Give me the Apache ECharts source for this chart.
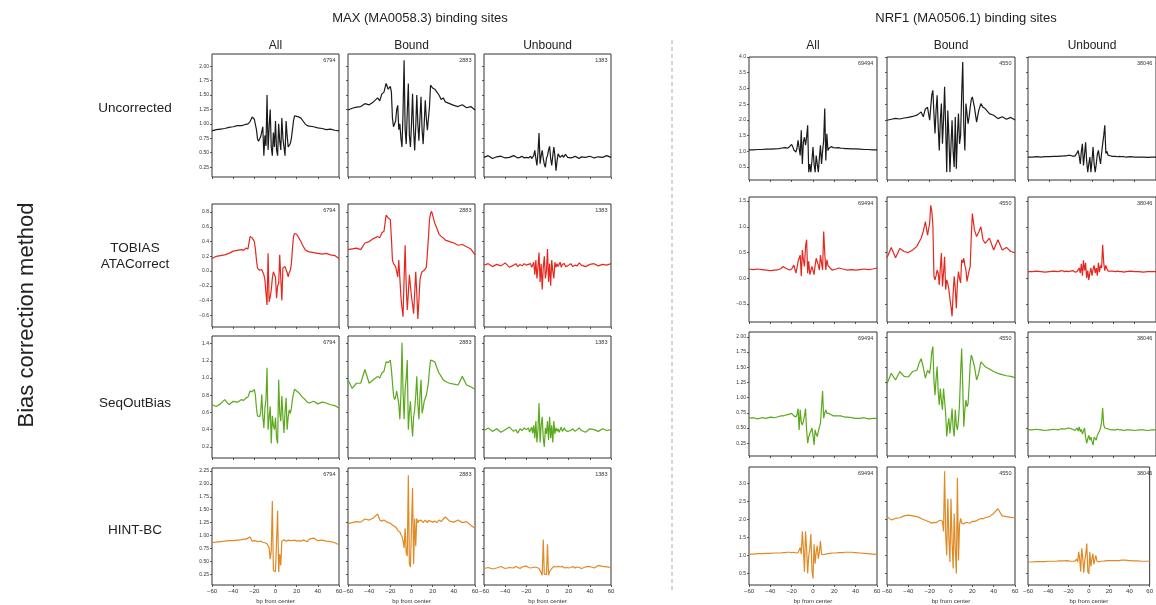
<!DOCTYPE html>
<html><head><meta charset="utf-8">
<script src="https://cdn.jsdelivr.net/npm/echarts@6/dist/echarts.min.js"></script>
<style>html,body{margin:0;padding:0;background:#fff}#c{width:1156px;height:605px}</style>
</head><body><div id="c"></div>
<script>
// ---------------- DATA ----------------
const X = [-60,-56,-52,-48,-44,-40,-36,-32,-30,-28,-26,-24,-22,
  -20,-19,-18,-17,-16,-15,-14,-13,-12,-11,-10,-9,-8,-7,-6,-5,-4,-3,-2,-1,
  0,1,2,3,4,5,6,7,8,9,10,11,12,13,14,15,16,17,18,19,20,
  22,24,26,28,30,32,36,40,44,48,52,56,60];

const motifTitles = ['MAX (MA0058.3) binding sites','NRF1 (MA0506.1) binding sites'];
const columns = ['All','Bound','Unbound'];
const methods = ['Uncorrected','TOBIAS\nATACorrect','SeqOutBias','HINT-BC'];
const yAxisTitle = 'Bias correction method';
const xAxisTitle = 'bp from center';
const maxCounts = ['6794','2883','1383'];
const nrf1Counts = ['69494','4550','38046'];
const xTicks = [-60,-40,-20,0,20,40,60];
const maxYTicks = [
  [0.25,0.50,0.75,1.00,1.25,1.50,1.75,2.00],
  [-0.6,-0.4,-0.2,0.0,0.2,0.4,0.6,0.8],
  [0.2,0.4,0.6,0.8,1.0,1.2,1.4],
  [0.25,0.50,0.75,1.00,1.25,1.50,1.75,2.00,2.25]];
const nrf1YTicks = [
  [0.5,1.0,1.5,2.0,2.5,3.0,3.5,4.0],
  [-0.5,0.0,0.5,1.0,1.5],
  [0.25,0.50,0.75,1.00,1.25,1.50,1.75,2.00],
  [0.5,1.0,1.5,2.0,2.5,3.0]];
const maxYDecimals = [2,1,1,2];
const nrf1YDecimals = [1,1,2,1];

// MAX (MA0058.3)
const maxUncorrectedAll = [0.88,0.90,0.91,0.92,0.94,0.95,0.97,0.97,0.98,0.99,1.00,1.04,1.12,
  1.08,1.10,0.90,0.74,0.70,0.72,0.78,0.80,0.95,0.45,
  0.80,0.62,1.50,0.55,0.95,1.25,0.60,0.45,0.85,0.60,
  1.05,0.55,0.45,1.00,0.70,0.55,1.10,0.75,0.60,0.45,
  1.05,0.80,0.60,0.62,0.66,0.75,0.90,1.05,1.14,1.15,1.13,
  1.12,1.10,1.05,1.00,0.97,0.96,0.95,0.93,0.92,0.90,0.91,0.89,0.88];
const maxUncorrectedBound = [1.24,1.27,1.29,1.30,1.35,1.33,1.38,1.45,1.40,1.52,1.55,1.70,1.60,
  1.65,1.55,1.10,0.95,0.96,1.05,1.25,1.32,0.90,1.00,
  0.75,0.60,1.20,2.10,0.90,0.65,1.20,1.70,0.80,0.60,
  1.00,1.52,0.90,0.54,0.95,1.50,1.00,0.71,1.10,1.47,
  0.90,0.65,1.00,1.41,1.10,0.89,0.92,1.30,1.67,1.65,1.62,
  1.60,1.55,1.50,1.42,1.45,1.38,1.35,1.32,1.30,1.33,1.28,1.30,1.24];
const maxUncorrectedUnbound = [0.42,0.45,0.40,0.43,0.44,0.41,0.42,0.45,0.43,0.41,0.42,0.44,0.41,
  0.42,0.43,0.41,0.42,0.44,0.40,0.42,0.45,0.54,0.40,
  0.28,0.50,0.84,0.31,0.45,0.54,0.40,0.30,0.25,0.40,
  0.45,0.55,0.61,0.40,0.28,0.45,0.60,0.45,0.19,0.35,
  0.48,0.51,0.42,0.44,0.46,0.42,0.43,0.47,0.44,0.42,0.43,
  0.41,0.42,0.44,0.42,0.40,0.43,0.42,0.44,0.41,0.43,0.42,0.45,0.42];
const maxTobiasAll = [0.17,0.20,0.21,0.22,0.24,0.27,0.28,0.29,0.28,0.31,0.30,0.47,0.45,
  0.40,0.30,0.15,0.04,0.02,0.01,0.01,0.02,0.00,-0.05,
  -0.12,-0.30,-0.46,0.24,-0.42,-0.35,-0.26,-0.10,-0.01,-0.05,
  -0.08,-0.37,-0.20,-0.17,0.22,-0.10,-0.40,0.04,0.05,0.06,
  0.05,-0.02,-0.08,-0.02,0.01,0.10,0.30,0.47,0.51,0.53,0.50,
  0.45,0.40,0.34,0.29,0.27,0.26,0.25,0.24,0.23,0.24,0.22,0.21,0.17];
const maxTobiasBound = [0.29,0.30,0.31,0.29,0.38,0.40,0.44,0.47,0.45,0.52,0.54,0.76,0.72,
  0.70,0.45,0.15,0.10,0.08,0.06,0.05,-0.08,0.15,-0.10,
  -0.35,-0.50,-0.62,-0.10,0.35,-0.20,-0.53,-0.30,-0.05,-0.20,
  -0.35,-0.45,-0.58,-0.30,-0.01,-0.30,-0.65,-0.40,-0.12,-0.05,
  -0.01,0.00,0.01,0.01,0.05,0.24,0.45,0.70,0.78,0.81,0.80,
  0.65,0.58,0.50,0.47,0.45,0.42,0.40,0.38,0.35,0.36,0.33,0.30,0.22];
const maxTobiasUnbound = [0.08,0.10,0.06,0.09,0.07,0.11,0.05,0.08,0.10,0.06,0.09,0.07,0.10,
  0.08,0.06,0.09,0.07,0.10,0.05,0.08,0.12,-0.05,0.15,
  -0.10,0.05,0.25,-0.15,0.10,-0.25,0.05,0.20,-0.10,0.00,
  0.30,-0.15,0.10,-0.20,0.15,0.00,-0.10,0.12,0.05,0.10,
  0.06,0.08,0.12,0.05,0.09,0.07,0.10,0.06,0.08,0.07,0.09,
  0.10,0.06,0.08,0.07,0.11,0.08,0.06,0.09,0.10,0.07,0.09,0.08,0.10];
const maxSeqOutBiasAll = [0.69,0.67,0.70,0.75,0.69,0.73,0.72,0.75,0.74,0.77,0.78,0.85,0.84,
  0.87,0.80,0.65,0.56,0.55,0.55,0.60,0.81,0.55,0.42,
  0.65,0.75,1.12,0.40,0.55,0.67,0.24,0.56,0.45,0.40,
  0.54,0.30,0.24,0.98,0.59,0.50,0.79,0.55,0.36,0.60,
  0.77,0.40,0.55,0.63,0.59,0.65,0.75,0.82,0.87,0.87,0.85,
  0.83,0.80,0.77,0.75,0.72,0.71,0.73,0.70,0.72,0.71,0.69,0.68,0.65];
const maxSeqOutBiasBound = [0.98,0.88,0.94,0.94,1.10,0.94,0.98,1.02,1.00,1.06,1.08,1.19,1.18,
  1.21,1.10,0.95,0.80,0.75,0.78,0.85,0.87,0.70,0.52,
  0.81,1.41,0.85,0.52,0.87,1.00,1.21,0.40,0.60,0.73,
  0.50,0.32,0.55,0.63,0.80,1.02,0.70,0.52,0.80,0.98,
  0.59,0.65,0.73,0.75,0.80,0.87,0.95,1.10,1.21,1.21,1.20,
  1.19,1.12,1.06,1.02,0.98,0.96,0.94,0.93,0.92,1.02,0.92,0.90,0.87];
const maxSeqOutBiasUnbound = [0.39,0.42,0.38,0.41,0.37,0.40,0.43,0.38,0.40,0.36,0.41,0.39,0.42,
  0.40,0.38,0.42,0.37,0.40,0.43,0.36,0.45,0.30,0.50,
  0.25,0.40,0.71,0.25,0.45,0.55,0.30,0.20,0.42,0.35,
  0.50,0.28,0.55,0.30,0.45,0.25,0.50,0.35,0.42,0.38,
  0.41,0.37,0.40,0.43,0.38,0.40,0.42,0.39,0.41,0.38,0.40,
  0.39,0.41,0.38,0.40,0.42,0.39,0.37,0.41,0.40,0.38,0.41,0.39,0.40];
const maxHintAll = [0.86,0.87,0.88,0.89,0.90,0.90,0.91,0.92,0.93,0.93,0.95,0.97,0.89,
  0.90,0.91,0.89,0.90,0.88,0.90,0.89,0.88,0.87,0.88,
  0.86,0.85,0.84,0.80,0.76,0.54,0.70,1.67,0.32,0.29,
  0.30,0.29,1.48,0.29,0.64,0.42,0.89,0.90,0.92,0.90,
  0.89,0.90,0.91,0.89,0.90,0.88,0.90,0.89,0.91,0.90,0.89,
  0.90,0.89,0.91,0.90,0.88,0.93,0.95,0.90,0.91,0.89,0.88,0.86,0.82];
const maxHintBound = [1.23,1.25,1.27,1.26,1.32,1.30,1.34,1.42,1.30,1.28,1.30,1.27,1.25,
  1.24,1.22,1.20,1.20,1.18,1.16,1.14,1.10,1.08,1.07,
  1.02,0.98,0.89,0.76,1.14,0.67,0.60,2.17,0.45,0.39,
  0.39,1.92,0.45,1.33,0.79,1.33,1.25,1.29,1.26,1.30,
  1.27,1.25,1.28,1.30,1.27,1.25,1.29,1.26,1.28,1.27,1.26,
  1.28,1.25,1.30,1.27,1.32,1.36,1.28,1.26,1.30,1.25,1.27,1.20,1.14];
const maxHintUnbound = [0.36,0.38,0.35,0.37,0.40,0.36,0.38,0.37,0.40,0.38,0.36,0.39,0.40,
  0.41,0.39,0.38,0.40,0.37,0.39,0.38,0.40,0.39,0.42,
  0.38,0.37,0.36,0.33,0.28,0.23,0.92,0.25,0.23,0.24,
  0.83,0.23,0.30,0.33,0.36,0.38,0.40,0.37,0.39,0.38,
  0.40,0.37,0.39,0.38,0.40,0.39,0.37,0.40,0.38,0.39,0.37,
  0.38,0.40,0.37,0.39,0.38,0.36,0.39,0.40,0.37,0.42,0.40,0.39,0.38];

// NRF1 (MA0506.1)
const nrf1UncorrectedAll = [1.05,1.05,1.06,1.06,1.07,1.07,1.08,1.09,1.10,1.11,1.12,1.10,1.15,
  1.22,1.15,1.05,1.00,0.98,1.10,1.35,1.10,0.87,1.67,
  0.60,1.30,1.45,1.20,1.45,1.83,0.34,0.60,0.34,0.70,
  1.14,0.60,0.34,0.87,0.60,0.34,0.80,1.19,0.60,1.00,
  1.35,2.36,0.71,1.56,1.03,1.10,1.16,1.15,1.13,1.12,1.12,
  1.11,1.12,1.10,1.10,1.09,1.09,1.08,1.08,1.07,1.06,1.06,1.05,1.05];
const nrf1UncorrectedBound = [1.99,2.02,2.05,2.03,2.06,2.08,2.11,2.15,2.20,2.25,2.10,2.35,2.40,
  1.99,2.40,2.80,2.94,2.20,1.57,2.30,2.78,1.80,1.03,
  2.00,2.52,1.24,2.00,3.05,1.80,0.34,2.30,1.50,0.34,
  1.20,1.99,1.00,0.50,2.09,0.45,1.50,2.20,1.24,1.50,
  2.80,3.84,1.80,1.03,2.52,2.20,1.88,2.10,2.40,2.65,2.73,
  2.40,1.93,2.30,2.52,2.40,2.36,2.20,2.15,2.04,2.10,2.02,2.08,2.00];
const nrf1UncorrectedUnbound = [0.82,0.82,0.83,0.82,0.83,0.83,0.84,0.84,0.85,0.85,0.86,0.86,0.87,
  0.87,0.86,0.85,0.84,0.85,0.88,0.95,1.03,0.85,0.60,
  1.00,1.24,0.55,0.90,1.29,0.70,0.34,0.60,0.82,0.34,
  0.70,1.14,0.60,0.34,0.60,0.90,1.03,0.80,0.60,0.95,
  1.24,1.50,1.83,0.93,1.00,0.88,0.85,0.86,0.85,0.84,0.84,
  0.84,0.83,0.84,0.83,0.83,0.82,0.83,0.82,0.82,0.82,0.81,0.82,0.82];
const nrf1TobiasAll = [0.18,0.17,0.18,0.17,0.16,0.15,0.16,0.17,0.19,0.23,0.20,0.18,0.16,
  0.18,0.22,0.26,0.18,0.10,0.20,0.33,0.30,0.45,0.04,
  0.55,0.35,0.23,0.62,0.75,0.10,0.33,0.07,0.15,0.23,
  0.15,0.07,0.25,0.39,0.36,0.25,0.16,0.45,0.30,0.16,
  0.91,0.50,0.16,0.36,0.25,0.23,0.20,0.19,0.16,0.18,0.17,
  0.18,0.20,0.19,0.18,0.17,0.16,0.17,0.16,0.17,0.18,0.17,0.18,0.20];
const nrf1TobiasBound = [0.40,0.60,0.40,0.58,0.52,0.50,0.55,0.62,0.70,0.78,0.91,1.10,0.84,
  1.07,1.42,1.30,1.04,0.04,-0.03,0.05,0.16,0.10,-0.13,
  0.20,0.49,-0.16,0.10,0.42,-0.22,-0.03,-0.10,-0.22,-0.40,
  -0.55,-0.74,-0.30,0.04,-0.20,-0.58,-0.10,0.13,0.00,-0.09,
  0.36,0.30,0.39,0.25,0.16,-0.06,0.05,0.15,0.23,0.80,1.26,
  0.94,0.81,0.90,1.00,0.75,0.68,0.78,0.55,0.75,0.55,0.60,0.52,0.50];
const nrf1TobiasUnbound = [0.13,0.13,0.14,0.13,0.12,0.13,0.14,0.13,0.14,0.15,0.13,0.14,0.13,
  0.14,0.13,0.15,0.13,0.12,0.14,0.13,0.16,0.20,0.10,
  0.28,0.05,0.35,0.15,0.30,0.00,0.15,-0.03,0.10,0.20,
  0.05,0.18,0.25,0.10,0.20,0.05,0.30,0.12,0.25,0.20,
  0.65,0.30,0.15,0.25,0.18,0.14,0.13,0.14,0.13,0.14,0.13,
  0.13,0.14,0.13,0.13,0.12,0.13,0.14,0.13,0.13,0.12,0.13,0.13,0.13];
const nrf1SeqOutBiasAll = [0.66,0.67,0.65,0.67,0.66,0.68,0.67,0.69,0.70,0.70,0.71,0.72,0.73,
  0.74,0.72,0.70,0.68,0.68,0.72,0.82,0.47,0.80,0.60,
  0.55,0.61,0.70,0.82,0.47,0.25,0.35,0.41,0.45,0.50,
  0.38,0.22,0.47,0.40,0.36,0.45,0.52,0.58,0.60,1.11,
  0.66,0.75,0.80,0.74,0.76,0.74,0.72,0.72,0.71,0.70,0.70,
  0.70,0.70,0.70,0.69,0.68,0.68,0.67,0.66,0.66,0.67,0.65,0.66,0.66];
const nrf1SeqOutBiasBound = [1.23,1.40,1.29,1.43,1.35,1.34,1.43,1.45,1.56,1.64,1.50,1.32,1.45,
  1.40,1.55,1.75,1.84,1.30,1.04,1.30,1.51,1.10,0.88,
  1.15,0.95,0.80,1.15,0.95,0.74,0.36,0.55,0.66,0.41,
  0.60,0.82,0.50,0.36,0.80,0.55,0.47,0.63,0.90,1.40,
  1.81,1.20,0.52,0.80,0.96,0.85,0.90,1.20,1.55,1.70,1.65,
  1.51,1.29,1.40,1.59,1.55,1.51,1.47,1.43,1.40,1.38,1.36,1.35,1.33];
const nrf1SeqOutBiasUnbound = [0.47,0.47,0.48,0.47,0.46,0.47,0.48,0.47,0.48,0.49,0.48,0.49,0.50,
  0.49,0.48,0.48,0.47,0.46,0.48,0.50,0.45,0.52,0.44,
  0.48,0.40,0.45,0.50,0.35,0.25,0.32,0.38,0.30,0.35,
  0.28,0.22,0.35,0.32,0.30,0.38,0.40,0.45,0.50,0.60,
  0.83,0.55,0.50,0.52,0.49,0.48,0.48,0.47,0.47,0.48,0.47,
  0.47,0.48,0.47,0.47,0.46,0.47,0.47,0.46,0.47,0.47,0.46,0.47,0.47];
const nrf1HintAll = [1.04,1.04,1.05,1.05,1.06,1.06,1.07,1.07,1.07,1.08,1.08,1.09,1.09,
  1.08,1.09,1.09,1.08,1.07,1.06,1.08,1.15,1.22,1.04,
  1.67,1.20,0.55,1.67,1.20,0.50,1.00,1.18,1.60,0.60,
  0.36,1.31,0.77,1.10,1.27,0.91,1.10,1.40,1.04,1.00,
  1.02,1.03,1.04,1.05,1.05,1.06,1.06,1.06,1.07,1.07,1.07,
  1.07,1.08,1.08,1.08,1.09,1.09,1.09,1.08,1.07,1.06,1.05,1.04,1.03];
const nrf1HintBound = [2.08,1.99,2.03,2.05,2.10,2.12,2.10,2.08,2.06,2.03,2.00,1.98,1.95,
  1.93,1.92,1.90,1.91,1.92,1.90,1.91,1.93,1.95,1.97,
  1.98,1.99,1.95,1.67,3.34,1.60,1.00,2.58,1.50,0.82,
  2.58,1.40,0.64,2.17,1.20,0.50,3.16,0.86,1.85,2.03,
  1.90,1.85,1.88,1.90,1.92,1.90,1.91,1.92,1.90,1.93,1.95,
  1.95,1.97,2.00,2.03,2.02,2.05,2.08,2.17,2.30,2.10,2.08,2.06,2.05];
const nrf1HintUnbound = [0.82,0.82,0.83,0.83,0.83,0.84,0.84,0.84,0.85,0.85,0.85,0.85,0.86,
  0.85,0.85,0.84,0.84,0.84,0.83,0.84,0.86,0.90,0.82,
  1.10,0.90,0.55,1.20,0.95,0.52,0.85,1.05,1.33,0.55,
  0.49,1.10,0.70,0.90,1.05,0.75,0.90,1.00,0.84,0.82,
  0.83,0.83,0.84,0.84,0.84,0.85,0.85,0.85,0.86,0.86,0.86,
  0.86,0.86,0.86,0.86,0.86,0.87,0.87,0.86,0.85,0.85,0.84,0.84,0.84];

// ---------------- LAYOUT / STYLE ----------------
const groups = [
  { title: motifTitles[0], counts: maxCounts, ticks: maxYTicks, dec: maxYDecimals,
    series: [[maxUncorrectedAll,maxUncorrectedBound,maxUncorrectedUnbound],
             [maxTobiasAll,maxTobiasBound,maxTobiasUnbound],
             [maxSeqOutBiasAll,maxSeqOutBiasBound,maxSeqOutBiasUnbound],
             [maxHintAll,maxHintBound,maxHintUnbound]],
    lefts: [212,348,484], width: 127,
    tops: [54,204,336,468], bottoms: [177,327,458,588],
    ranges: [[0.08,2.21],[-0.76,0.91],[0.07,1.49],[0.04,2.31]],
    titleX: 420 },
  { title: motifTitles[1], counts: nrf1Counts, ticks: nrf1YTicks, dec: nrf1YDecimals,
    series: [[nrf1UncorrectedAll,nrf1UncorrectedBound,nrf1UncorrectedUnbound],
             [nrf1TobiasAll,nrf1TobiasBound,nrf1TobiasUnbound],
             [nrf1SeqOutBiasAll,nrf1SeqOutBiasBound,nrf1SeqOutBiasUnbound],
             [nrf1HintAll,nrf1HintBound,nrf1HintUnbound]],
    lefts: [749,887,1028], width: 128,
    tops: [57,197,332,467], bottoms: [180,322,456,589],
    ranges: [[0.09,4.0],[-0.85,1.58],[0.04,2.08],[0.18,3.46]],
    titleX: 966 }
];
const rowColors = ['#1a1a1a','#e5281f','#5ba91c','#e08a25'];
const FONT = 'Liberation Sans, Arial, sans-serif';
const fmt = (v, d) => v.toFixed(d).replace('-', '\u2212');

const grid = [], xAxis = [], yAxis = [], series = [], graphic = [];
let idx = 0;
groups.forEach((g, gi) => {
  for (let r = 0; r < 4; r++) {
    for (let c = 0; c < 3; c++) {
      const left = g.lefts[c], top = g.tops[r], h = g.bottoms[r] - g.tops[r];
      grid.push({ left, top, width: g.width, height: h, show: true,
        borderColor: '#333', borderWidth: 1, backgroundColor: 'rgba(0,0,0,0)' });
      xAxis.push({ type: 'value', gridIndex: idx, min: -60, max: 60, position: 'bottom',
        axisLine: { show: false, onZero: false }, splitLine: { show: false },
        axisTick: { show: true, customValues: xTicks, length: 2, lineStyle: { color: '#333', width: 0.8 } },
        axisLabel: { show: r === 3, customValues: xTicks, formatter: v => fmt(v, 0),
          fontSize: 6, color: '#333', margin: 3, fontFamily: FONT },
        name: r === 3 ? xAxisTitle : '', nameLocation: 'middle', nameGap: 13,
        nameTextStyle: { fontSize: 6, color: '#333', fontFamily: FONT } });
      const ticks = g.ticks[r], d = g.dec[r];
      yAxis.push({ type: 'value', gridIndex: idx, min: g.ranges[r][0], max: g.ranges[r][1], position: 'left',
        axisLine: { show: false, onZero: false }, splitLine: { show: false },
        axisTick: { show: true, customValues: ticks, length: 2, lineStyle: { color: '#333', width: 0.8 } },
        axisLabel: { show: c === 0, customValues: ticks, formatter: v => fmt(v, d),
          fontSize: 5, color: '#333', margin: 3, fontFamily: FONT } });
      const vals = g.series[r][c];
      series.push({ type: 'line', xAxisIndex: idx, yAxisIndex: idx,
        data: X.map((x, k) => [x, vals[k]]),
        symbol: 'none', showSymbol: false, silent: true,
        lineStyle: { color: rowColors[r], width: 1.2 }, itemStyle: { color: rowColors[r] } });
      graphic.push({ type: 'text', left: left + g.width - 3 - g.counts[c].length * 3.2, top: top + 3,
        style: { text: g.counts[c], fontSize: 5.5, fill: '#333', fontFamily: FONT } });
      if (r === 0) {
        graphic.push({ type: 'text', x: left + g.width / 2, y: 46,
          style: { text: columns[c], fontSize: 12, fill: '#222', fontFamily: FONT,
            textAlign: 'center', textVerticalAlign: 'middle' } });
      }
      idx++;
    }
  }
  graphic.push({ type: 'text', x: g.titleX, y: 18,
    style: { text: g.title, fontSize: 13, fill: '#222', fontFamily: FONT,
      textAlign: 'center', textVerticalAlign: 'middle' } });
});
const rowLabelY = [108, 256, 403, 530];
methods.forEach((m, r) => {
  graphic.push({ type: 'text', x: 135, y: rowLabelY[r],
    style: { text: m, fontSize: 13.5, lineHeight: 16, fill: '#222', fontFamily: FONT,
      textAlign: 'center', textVerticalAlign: 'middle' } });
});
graphic.push({ type: 'text', x: 27, y: 315, rotation: Math.PI / 2,
  style: { text: yAxisTitle, fontSize: 22, fill: '#222', fontFamily: FONT,
    textAlign: 'center', textVerticalAlign: 'middle' } });
graphic.push({ type: 'line', shape: { x1: 672, y1: 40, x2: 672, y2: 592 },
  style: { stroke: '#aaa', lineWidth: 1, lineDash: [4, 3] } });

const chart = echarts.init(document.getElementById('c'), null, { renderer: 'canvas' });
chart.setOption({ animation: false, backgroundColor: '#fff', grid, xAxis, yAxis, series, graphic });
</script></body></html>
